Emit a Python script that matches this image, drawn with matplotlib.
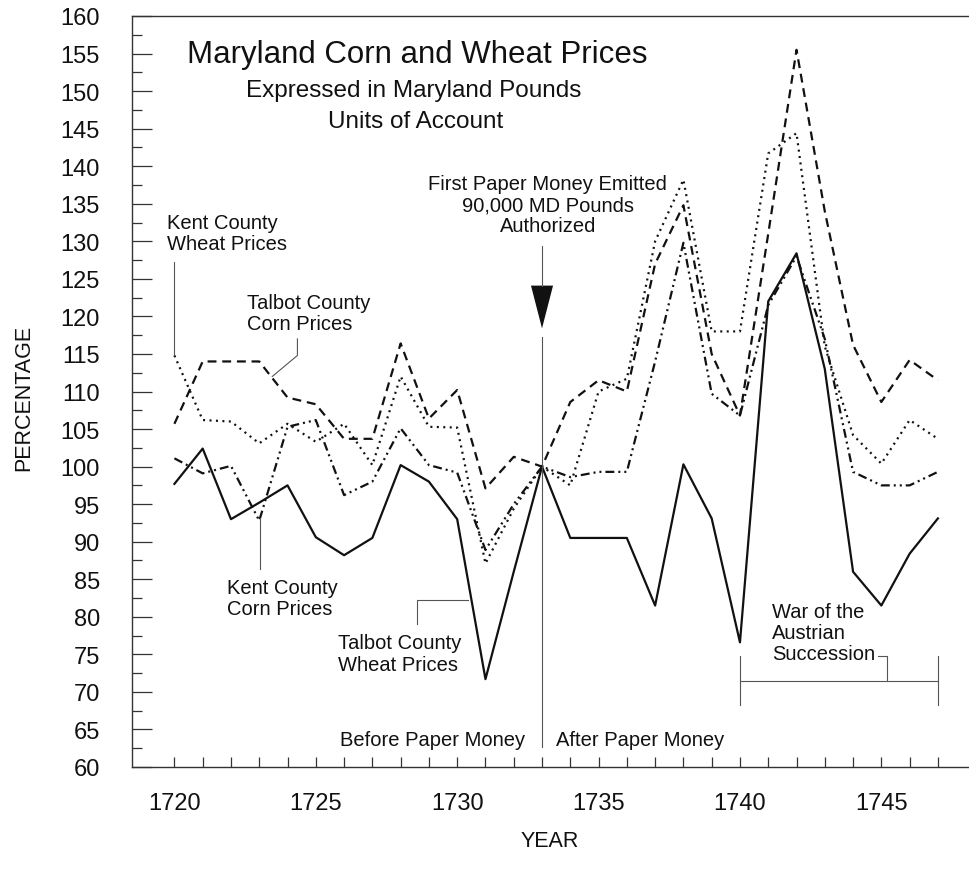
import matplotlib

matplotlib.use("Agg")
import matplotlib.pyplot as plt
from matplotlib.ticker import MultipleLocator

# values (percent, 1733 = 100)
years = list(range(1720, 1748))

talbot_wheat = [97.7, 102.4, 93.0, 95.2, 97.5, 90.6, 88.2, 90.5, 100.2, 98.0,
                93.0, 71.7, 86.0, 100.0, 90.5, 90.5, 90.5, 81.5, 100.3, 93.1,
                76.6, 122.0, 128.4, 113.0, 86.0, 81.5, 88.4, 93.1]

talbot_corn = [105.7, 114.0, 114.0, 114.0, 109.2, 108.3, 103.7, 103.7, 116.4, 106.4,
               110.2, 97.1, 101.3, 100.0, 108.6, 111.5, 110.0, 127.0, 134.8, 115.0,
               106.8, 131.0, 155.5, 134.0, 116.2, 108.6, 114.2, 111.5]

kent_wheat = [114.8, 106.2, 106.0, 103.1, 105.7, 103.3, 105.7, 100.2, 112.0, 105.3,
              105.2, 87.1, 94.4, 100.0, 97.5, 110.0, 111.7, 130.0, 138.2, 118.0,
              118.0, 141.7, 144.4, 116.0, 104.2, 100.4, 106.2, 103.7]

kent_corn = [101.1, 99.1, 100.1, 92.8, 105.3, 106.2, 96.2, 98.0, 105.1, 100.2,
             99.2, 88.9, 95.0, 100.0, 98.6, 99.3, 99.3, 114.0, 129.8, 109.7,
             106.8, 121.5, 128.0, 117.0, 99.3, 97.5, 97.5, 99.3]

FONT = "Liberation Sans"
INK = "#111111"
LEADER = "#555555"

W, H = 969, 870


def main():
    fig = plt.figure(figsize=(W / 100, H / 100), dpi=100)
    ax = fig.add_axes([132 / W, (H - 768) / H, (W - 132) / W, (768 - 17) / H])

    draw_series(ax)
    style_axes(ax)
    draw_annotations(ax)

    # titles, placed in figure pixels
    fig.text(187 / W, 1 - 63 / H, "Maryland Corn and Wheat Prices",
             fontsize=22.5, family=FONT, color=INK, ha="left", va="baseline")
    fig.text(414 / W, 1 - 97 / H, "Expressed in Maryland Pounds",
             fontsize=17.5, family=FONT, color=INK, ha="center", va="baseline")
    fig.text(416 / W, 1 - 128 / H, "Units of Account",
             fontsize=17.5, family=FONT, color=INK, ha="center", va="baseline")

    fig.text(24 / W, 1 - 398 / H, "PERCENTAGE", rotation=90,
             fontsize=15.5, family=FONT, color=INK, ha="center", va="center")
    fig.text(550 / W, 1 - 842 / H, "YEAR",
             fontsize=15.5, family=FONT, color=INK, ha="center", va="center")

    fig.savefig("out.png", dpi=100, facecolor="white")


def draw_series(ax):
    lw = 1.6
    ax.plot(years, talbot_wheat, color=INK, lw=lw, linestyle="-")
    ax.plot(years, talbot_corn, color=INK, lw=lw, linestyle=(0, (4.0, 2.6)))
    ax.plot(years, kent_wheat, color=INK, lw=lw, linestyle=(0, (0.9, 2.0)))
    ax.plot(years, kent_corn, color=INK, lw=lw,
            linestyle=(0, (4.0, 1.8, 0.9, 1.8, 0.9, 1.8)))


def style_axes(ax):
    ax.set_xlim(1718.5, 1748.1)
    ax.set_ylim(60, 160)

    ax.spines["right"].set_visible(False)
    for side in ("left", "bottom", "top"):
        ax.spines[side].set_linewidth(1.0)
        ax.spines[side].set_color("#333333")

    ax.xaxis.set_major_locator(MultipleLocator(5))
    ax.xaxis.set_minor_locator(MultipleLocator(1))
    ax.yaxis.set_major_locator(MultipleLocator(5))
    ax.yaxis.set_minor_locator(MultipleLocator(2.5))

    ax.tick_params(axis="y", which="major", direction="in", length=14.5,
                   width=0.9, pad=23, labelsize=17, colors="#333333",
                   labelcolor=INK)
    ax.tick_params(axis="y", which="minor", direction="in", length=7,
                   width=0.9, colors="#333333")
    ax.tick_params(axis="x", which="both", direction="in", length=7,
                   width=0.9, colors="#333333", top=False)
    ax.tick_params(axis="x", which="major", pad=18, labelsize=17,
                   labelcolor=INK)

    for lab in ax.get_xticklabels() + ax.get_yticklabels():
        lab.set_family(FONT)

    # keep x ticks inside the data years only
    ax.set_xticks([y for y in range(1720, 1746, 5)])
    ax.set_xticks(years, minor=True)


def draw_annotations(ax):
    txt = dict(fontsize=14.5, family=FONT, color=INK, linespacing=1.15)
    thin = dict(color=LEADER, lw=0.8)

    # Kent County wheat
    ax.text(1719.75, 131.1, "Kent County\nWheat Prices", ha="left", va="center", **txt)
    ax.plot([1720, 1720], [127.3, 114.8], **thin)

    # Talbot County corn
    ax.text(1722.58, 120.5, "Talbot County\nCorn Prices", ha="left", va="center", **txt)
    ax.plot([1724.35, 1724.35, 1723.46], [117.0, 114.8, 112.0], **thin)

    # Kent County corn
    ax.text(1721.87, 82.5, "Kent County\nCorn Prices", ha="left", va="center", **txt)
    ax.plot([1723.04, 1723.04], [86.4, 93.1], **thin)

    # Talbot County wheat
    ax.text(1725.8, 75.1, "Talbot County\nWheat Prices", ha="left", va="center", **txt)
    ax.plot([1728.59, 1728.59, 1730.39], [79.1, 82.3, 82.3], **thin)

    # paper money marker
    ax.text(1733.2, 134.9, "First Paper Money Emitted\n90,000 MD Pounds\nAuthorized",
            ha="center", va="center", multialignment="center", **txt)
    ax.plot([1733, 1733], [129.4, 124.1], **thin)
    ax.fill([1733 - 0.39, 1733 + 0.39, 1733], [124.1, 124.1, 118.4],
            color=INK, lw=0)
    ax.plot([1733, 1733], [117.2, 62.6], **thin)

    ax.text(1732.4, 63.7, "Before Paper Money", ha="right", va="center", **txt)
    ax.text(1733.5, 63.7, "After Paper Money", ha="left", va="center", **txt)

    # war bracket
    ax.text(1741.13, 77.9, "War of the\nAustrian\nSuccession", ha="left", va="center", **txt)
    ax.plot([1744.88, 1745.19, 1745.19], [74.8, 74.8, 71.5], **thin)
    ax.plot([1740, 1747], [71.5, 71.5], **thin)
    ax.plot([1740, 1740], [74.8, 68.3], **thin)
    ax.plot([1747, 1747], [74.8, 68.3], **thin)


if __name__ == "__main__":
    main()
